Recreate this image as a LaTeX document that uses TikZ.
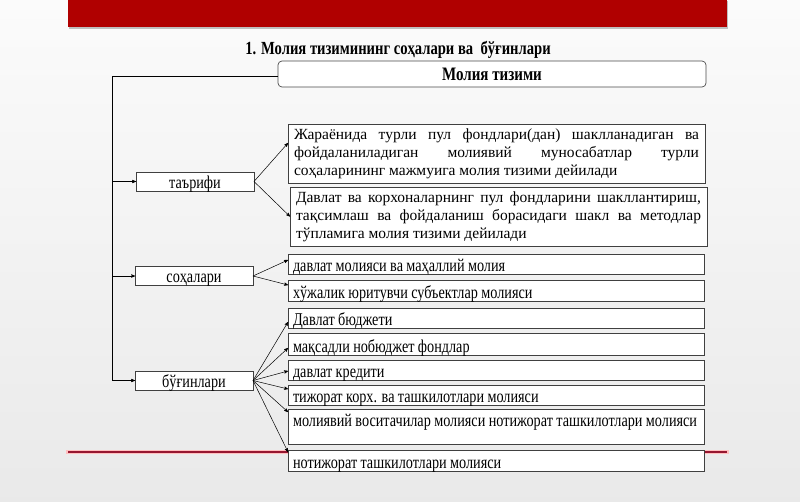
\documentclass[tikz,border=0pt]{standalone}
\usepackage{fontspec}
\setmainfont{Liberation Serif}
\newfontfamily\narrowfont{Liberation Serif}[FakeStretch=0.79]
\newcommand\itemfont{\narrowfont\fontsize{18}{19}\selectfont\spaceskip=3.4pt plus 1pt minus 1pt\relax}
\usetikzlibrary{arrows,calc,positioning}
\definecolor{slidered}{RGB}{176,0,0}
\definecolor{linered}{RGB}{150,22,48}

\begin{document}
\begin{tikzpicture}[x=1pt,y=-1pt,>=stealth',
    frame/.style={draw=black!75,fill=white,line width=0.7pt,outer sep=0pt,inner ysep=0pt},
    box/.style={frame,text depth=3pt},
    catbox/.style={box,minimum width=118pt,text height=16pt,font=\itemfont},
    itembox/.style={box,anchor=north west,text width=406pt,inner xsep=5pt,align=flush left,text height=#1,font=\itemfont},
    defbox/.style={frame,anchor=north west,text width=405pt,inner xsep=6pt,align=justify,minimum height=59pt,font=\fontsize{15.5}{18}\selectfont},
    conn/.style={->,line width=0.5pt}]
  \useasboundingbox (0,0) rectangle (800,501);
  % slide background
  \fill[top color=gray!3,bottom color=gray!17] (0,0) rectangle (800,501);
  \fill[black!25] (69,1) rectangle (728,29);
  \fill[slidered] (68,0) rectangle (727,27);
  \draw[red!25,line width=4pt] (66,452) -- (729,452);
  \draw[linered,line width=2pt] (68,452) -- (727,452);

  \node[font=\narrowfont\bfseries\fontsize{18.5}{20}\selectfont] (title) at (398,50) {1. Молия тизимининг соҳалари ва~ бўғинлари};
  \node[draw=black!70,fill=white,rounded corners=4pt,line width=0.7pt,outer sep=0pt,anchor=north west,minimum width=428pt,minimum height=26pt,
        font=\narrowfont\bfseries\fontsize{19}{20}\selectfont] (sys) at (278,61) {Молия тизими};

  % categories
  \node[catbox] (tar) at (195,181.5) {таърифи};
  \node[catbox] (sox) at (194,276) {соҳалари};
  \node[catbox] (bug) at (194,380.5) {бўғинлари};

  % definitions
  \node[defbox] (d1) at (288,124) {Жараёнида турли пул фондлари(дан) шаклланадиган ва\linebreak фойдаланиладиган молиявий муносабатлар турли\linebreak соҳаларининг мажмуига молия тизими дейилади};
  \node[defbox] (d2) at (290,187) {Давлат ва корхоналарнинг пул фондларини шакллантириш,\linebreak тақсимлаш ва фойдаланиш борасидаги шакл ва методлар\linebreak тўпламига молия тизими дейилади};

  % branches
  \node[itembox=17pt] (s1) at (288,254) {давлат молияси ва маҳаллий молия};
  \node[itembox=18pt,below=6pt of s1.south west,anchor=north west] (s2) {хўжалик юритувчи субъектлар молияси};
  \node[itembox=17pt,below=7pt of s2.south west,anchor=north west] (b1) {Давлат бюджети};
  \node[itembox=19pt,below=5pt of b1.south west,anchor=north west] (b2) {мақсадли нобюджет фондлар};
  \node[itembox=17pt,below=5pt of b2.south west,anchor=north west] (b3) {давлат кредити};
  \node[itembox=17pt,below=5pt of b3.south west,anchor=north west] (b4) {тижорат корх. ва ташкилотлари молияси};
  \node[itembox=17pt,text depth=18pt,below=4pt of b4.south west,anchor=north west] (b5) {молиявий воситачилар молияси нотижорат ташкилотлари молияси};
  \node[itembox=18pt,below=6pt of b5.south west,anchor=north west] (b6) {нотижорат ташкилотлари молияси};

  % spine
  \coordinate (spine) at (112,76);
  \draw[line width=0.6pt] (sys.west |- spine) -- (spine) -- (spine |- bug.west);
  \draw[conn] (spine |- tar.west) -- (tar.west);
  \draw[conn] (spine |- sox.west) -- (sox.west);
  \draw[conn] (spine |- bug.west) -- (bug.west);

  \draw[conn] (tar.east) -- ([yshift=-19pt]d1.north west);
  \draw[conn] (tar.east) -- (d2.west);
  \draw[conn] (sox.east) -- ([yshift=-6pt]s1.north west);
  \draw[conn] (sox.east) -- ([yshift=-5pt]s2.north west);
  \draw[conn] (bug.east) -- ([yshift=-14pt]b1.north west);
  \draw[conn] (bug.east) -- ([yshift=-15pt]b2.north west);
  \draw[conn] (bug.east) -- ([yshift=-11pt]b3.north west);
  \draw[conn] (bug.east) -- ([yshift=-4pt]b4.north west);
  \draw[conn] (bug.east) -- ([yshift=-3pt]b5.north west);
  \draw[conn] (bug.east) -- ([yshift=-2pt]b6.north west);
\end{tikzpicture}
\end{document}
